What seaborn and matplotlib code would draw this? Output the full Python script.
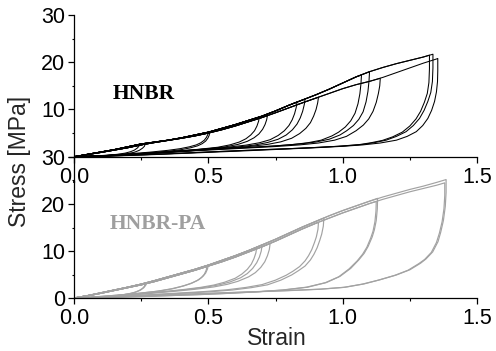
import matplotlib
matplotlib.use("Agg")
import matplotlib.pyplot as plt
import numpy as np
import pandas as pd
import seaborn as sns
from matplotlib.ticker import MultipleLocator, FormatStrFormatter

# ---------------- data ----------------
env_strain = [0.0, 0.05, 0.1, 0.15, 0.2, 0.25, 0.3, 0.35, 0.4, 0.45, 0.5, 0.55, 0.6, 0.65,
              0.7, 0.75, 0.8, 0.85, 0.9, 0.95, 1.0, 1.05, 1.1, 1.15, 1.2, 1.25, 1.3, 1.35, 1.39]

# HNBR loading envelopes (two specimens)
hnbr_env_a = [0.0, 0.5, 1.0, 1.5, 2.1, 2.7, 3.1, 3.5, 4.0, 4.6, 5.2, 6.0, 6.8, 7.7,
              8.6, 9.7, 10.9, 12.0, 13.1, 14.3, 15.6, 16.9, 18.0, 18.9, 19.7, 20.4, 21.1, 21.9, 22.4]
hnbr_env_b = [0.0, 0.45, 0.9, 1.4, 1.9, 2.5, 3.0, 3.45, 3.9, 4.4, 5.0, 5.7, 6.5, 7.4,
              8.3, 9.3, 10.35, 11.4, 12.4, 13.4, 14.4, 15.25, 15.95, 16.8, 17.8, 18.8, 19.8, 20.7, 21.3]

# HNBR unloading branches (strain, stress), starting at the peak
hnbr_a1 = [(0.245, 2.65), (0.242, 2.25), (0.236, 1.85), (0.225, 1.4), (0.21, 1.05), (0.19, 0.75),
           (0.16, 0.5), (0.12, 0.28), (0.07, 0.1), (0.0, 0.0)]
hnbr_b1 = [(0.265, 2.65), (0.262, 2.2), (0.255, 1.8), (0.243, 1.35), (0.225, 0.95), (0.2, 0.65),
           (0.165, 0.4), (0.12, 0.2), (0.06, 0.06), (0.0, 0.0)]
hnbr_a2 = [(0.5, 5.2), (0.498, 4.7), (0.493, 4.1), (0.485, 3.5), (0.472, 2.95), (0.455, 2.5),
           (0.43, 2.1), (0.395, 1.7), (0.35, 1.35), (0.28, 0.95), (0.2, 0.6), (0.12, 0.3),
           (0.05, 0.08), (0.0, 0.0)]
hnbr_b2 = [(0.505, 5.05), (0.503, 4.5), (0.498, 3.9), (0.49, 3.3), (0.477, 2.75), (0.46, 2.3),
           (0.435, 1.9), (0.4, 1.5), (0.35, 1.15), (0.28, 0.8), (0.2, 0.5), (0.12, 0.25),
           (0.05, 0.06), (0.0, 0.0)]
hnbr_a3 = [(0.69, 8.4), (0.687, 7.5), (0.681, 6.5), (0.672, 5.5), (0.658, 4.6), (0.64, 3.8),
           (0.615, 3.1), (0.58, 2.5), (0.535, 2.0), (0.47, 1.6), (0.39, 1.2), (0.3, 0.8),
           (0.2, 0.45), (0.1, 0.15), (0.0, 0.0)]
hnbr_b3 = [(0.72, 8.7), (0.717, 7.8), (0.711, 6.8), (0.702, 5.8), (0.688, 4.8), (0.67, 4.0),
           (0.645, 3.25), (0.61, 2.6), (0.565, 2.1), (0.5, 1.7), (0.42, 1.3), (0.33, 0.9),
           (0.23, 0.5), (0.12, 0.18), (0.0, 0.0)]
hnbr_a4 = [(0.86, 12.2), (0.857, 11.0), (0.851, 9.6), (0.842, 8.2), (0.83, 6.9), (0.813, 5.7),
           (0.79, 4.6), (0.76, 3.7), (0.72, 3.0), (0.67, 2.45), (0.6, 2.0), (0.5, 1.55),
           (0.4, 1.15), (0.3, 0.78), (0.2, 0.42), (0.1, 0.15), (0.0, 0.0)]
hnbr_a4b = [(0.83, 11.6), (0.827, 10.4), (0.821, 9.1), (0.812, 7.8), (0.8, 6.6), (0.783, 5.5),
            (0.76, 4.5), (0.73, 3.6), (0.69, 2.95), (0.64, 2.45), (0.57, 2.0), (0.48, 1.6),
            (0.38, 1.2), (0.28, 0.8), (0.18, 0.42), (0.09, 0.14), (0.0, 0.0)]
hnbr_b4 = [(0.91, 12.6), (0.907, 11.4), (0.901, 10.0), (0.892, 8.6), (0.88, 7.2), (0.863, 6.0),
           (0.84, 4.9), (0.81, 3.9), (0.77, 3.15), (0.72, 2.6), (0.65, 2.15), (0.56, 1.75),
           (0.46, 1.35), (0.36, 0.95), (0.25, 0.55), (0.13, 0.2), (0.0, 0.0)]
hnbr_a5 = [(1.10, 18.0), (1.098, 16.0), (1.094, 13.8), (1.087, 11.6), (1.076, 9.5), (1.06, 7.9),
           (1.04, 6.6), (1.015, 5.5), (0.99, 4.6), (0.95, 3.7), (0.9, 3.1), (0.84, 2.7),
           (0.75, 2.3), (0.65, 2.0), (0.55, 1.7), (0.45, 1.35), (0.35, 1.0), (0.25, 0.65),
           (0.15, 0.32), (0.07, 0.1), (0.0, 0.0)]
hnbr_a5b = [(1.07, 17.3), (1.068, 15.4), (1.064, 13.3), (1.057, 11.2), (1.046, 9.2), (1.03, 7.6),
            (1.01, 6.3), (0.985, 5.2), (0.96, 4.4), (0.92, 3.5), (0.87, 2.95), (0.81, 2.55),
            (0.72, 2.15), (0.62, 1.85), (0.52, 1.55), (0.42, 1.25), (0.32, 0.9), (0.22, 0.55),
            (0.12, 0.25), (0.05, 0.06), (0.0, 0.0)]
hnbr_b5 = [(1.14, 16.6), (1.138, 15.0), (1.133, 13.4), (1.125, 11.5), (1.113, 9.6), (1.097, 8.0),
           (1.077, 6.7), (1.05, 5.5), (1.014, 4.3), (0.97, 3.5), (0.91, 2.9), (0.84, 2.5),
           (0.75, 2.15), (0.65, 1.85), (0.55, 1.55), (0.45, 1.25), (0.35, 0.9), (0.25, 0.55),
           (0.15, 0.25), (0.07, 0.08), (0.0, 0.0)]
hnbr_a6 = [(1.336, 21.7), (1.336, 18.8), (1.334, 15.9), (1.328, 13.6), (1.317, 11.7), (1.303, 9.8),
           (1.286, 8.1), (1.263, 6.6), (1.236, 5.3), (1.2, 4.3), (1.162, 3.5), (1.12, 3.0),
           (1.075, 2.6), (1.0, 2.25), (0.9, 1.95), (0.8, 1.7), (0.7, 1.5), (0.6, 1.25),
           (0.5, 1.0), (0.4, 0.75), (0.3, 0.5), (0.2, 0.28), (0.1, 0.1), (0.0, 0.0)]
hnbr_a6b = [(1.323, 21.5), (1.323, 18.6), (1.321, 15.7), (1.315, 13.4), (1.304, 11.5), (1.29, 9.6),
            (1.273, 8.0), (1.25, 6.5), (1.222, 5.2), (1.186, 4.2), (1.148, 3.45), (1.105, 2.95),
            (1.06, 2.55), (0.98, 2.2), (0.88, 1.9), (0.78, 1.65), (0.68, 1.42), (0.58, 1.2),
            (0.48, 0.95), (0.38, 0.7), (0.28, 0.46), (0.18, 0.25), (0.09, 0.08), (0.0, 0.0)]
hnbr_b6 = [(1.354, 20.8), (1.354, 18.2), (1.353, 15.9), (1.349, 13.7), (1.342, 11.7), (1.331, 9.8),
           (1.317, 8.1), (1.298, 6.6), (1.274, 5.3), (1.24, 4.3), (1.2, 3.5), (1.14, 2.9),
           (1.075, 2.5), (1.0, 2.2), (0.9, 1.9), (0.8, 1.65), (0.7, 1.4), (0.6, 1.15),
           (0.5, 0.92), (0.4, 0.68), (0.3, 0.45), (0.2, 0.25), (0.1, 0.08), (0.0, 0.0)]

# HNBR-PA loading envelopes
pa_env_c = [0.0, 0.5, 1.1, 1.7, 2.3, 2.95, 3.7, 4.5, 5.3, 6.1, 7.0, 8.0, 9.0, 10.1,
            11.3, 12.5, 13.8, 15.1, 16.3, 17.5, 18.6, 19.6, 20.6, 21.5, 22.3, 23.1, 23.8, 24.6, 25.3]
pa_env_d = [0.0, 0.45, 1.0, 1.6, 2.2, 2.8, 3.5, 4.3, 5.1, 5.9, 6.8, 7.7, 8.7, 9.8,
            10.9, 12.1, 13.4, 14.7, 15.9, 17.0, 18.1, 19.1, 20.1, 21.0, 21.8, 22.6, 23.3, 24.0, 24.7]

# HNBR-PA unloading branches
pa_c1 = [(0.27, 3.25), (0.267, 2.7), (0.26, 2.2), (0.248, 1.7), (0.23, 1.25), (0.205, 0.88),
         (0.17, 0.56), (0.125, 0.3), (0.07, 0.1), (0.0, 0.0)]
pa_d1 = [(0.265, 3.0), (0.262, 2.5), (0.255, 2.05), (0.243, 1.6), (0.225, 1.2), (0.2, 0.85),
         (0.165, 0.54), (0.12, 0.28), (0.065, 0.09), (0.0, 0.0)]
pa_c2 = [(0.5, 7.0), (0.497, 6.2), (0.49, 5.3), (0.48, 4.6), (0.465, 3.9), (0.44, 3.2),
         (0.41, 2.6), (0.37, 2.0), (0.32, 1.5), (0.25, 1.05), (0.16, 0.6), (0.08, 0.25), (0.0, 0.0)]
pa_d2 = [(0.495, 6.7), (0.492, 5.9), (0.485, 5.05), (0.474, 4.35), (0.458, 3.7), (0.433, 3.05),
         (0.402, 2.5), (0.362, 1.95), (0.31, 1.45), (0.24, 1.0), (0.15, 0.55), (0.07, 0.2), (0.0, 0.0)]
pa_c3 = [(0.70, 11.3), (0.697, 10.0), (0.69, 8.7), (0.68, 7.5), (0.665, 6.3), (0.645, 5.2),
         (0.62, 4.3), (0.58, 3.4), (0.54, 2.8), (0.49, 2.3), (0.42, 1.8), (0.34, 1.35),
         (0.25, 0.9), (0.15, 0.45), (0.07, 0.15), (0.0, 0.0)]
pa_c3b = [(0.68, 10.8), (0.677, 9.6), (0.67, 8.4), (0.66, 7.2), (0.645, 6.1), (0.625, 5.1),
          (0.6, 4.2), (0.56, 3.35), (0.52, 2.75), (0.47, 2.25), (0.4, 1.75), (0.32, 1.3),
          (0.23, 0.85), (0.14, 0.42), (0.06, 0.12), (0.0, 0.0)]
pa_d3 = [(0.73, 11.6), (0.727, 10.3), (0.72, 9.0), (0.71, 7.7), (0.695, 6.5), (0.675, 5.4),
         (0.65, 4.5), (0.61, 3.55), (0.57, 2.9), (0.52, 2.35), (0.45, 1.85), (0.37, 1.4),
         (0.28, 0.95), (0.18, 0.5), (0.08, 0.15), (0.0, 0.0)]
pa_c4 = [(0.93, 17.0), (0.928, 15.3), (0.922, 13.6), (0.915, 12.3), (0.905, 10.7), (0.893, 9.3),
         (0.88, 8.1), (0.86, 6.8), (0.835, 5.8), (0.81, 4.9), (0.77, 3.8), (0.72, 2.8),
         (0.66, 2.2), (0.59, 1.7), (0.5, 1.3), (0.4, 1.0), (0.3, 0.7), (0.2, 0.4), (0.1, 0.15), (0.0, 0.0)]
pa_d4 = [(0.91, 16.1), (0.908, 14.6), (0.902, 13.0), (0.895, 11.8), (0.885, 10.3), (0.873, 9.0),
         (0.86, 7.9), (0.84, 6.7), (0.815, 5.7), (0.79, 4.85), (0.75, 3.8), (0.7, 2.85),
         (0.64, 2.25), (0.57, 1.75), (0.48, 1.35), (0.38, 1.02), (0.28, 0.7), (0.18, 0.38),
         (0.09, 0.12), (0.0, 0.0)]
pa_c5 = [(1.13, 21.2), (1.129, 19.0), (1.125, 16.5), (1.118, 14.5), (1.11, 13.0), (1.095, 11.0),
         (1.08, 9.5), (1.06, 8.1), (1.03, 6.3), (0.99, 4.6), (0.94, 3.3), (0.87, 2.3),
         (0.78, 1.7), (0.68, 1.3), (0.58, 1.0), (0.48, 0.75), (0.38, 0.55), (0.28, 0.35),
         (0.18, 0.2), (0.08, 0.06), (0.0, 0.0)]
pa_d5 = [(1.125, 20.55), (1.124, 18.5), (1.12, 16.2), (1.113, 14.2), (1.104, 12.7), (1.09, 10.8),
         (1.074, 9.3), (1.054, 7.9), (1.024, 6.2), (0.985, 4.5), (0.935, 3.25), (0.865, 2.3),
         (0.775, 1.7), (0.675, 1.3), (0.575, 1.0), (0.475, 0.75), (0.375, 0.55), (0.275, 0.35),
         (0.175, 0.2), (0.075, 0.06), (0.0, 0.0)]
pa_c6 = [(1.385, 25.2), (1.385, 22.5), (1.382, 19.5), (1.375, 16.5), (1.365, 14.0), (1.355, 12.0),
         (1.335, 9.8), (1.31, 8.3), (1.29, 7.4), (1.25, 6.0), (1.2, 4.9), (1.14, 3.9),
         (1.08, 3.0), (1.01, 2.3), (0.92, 1.9), (0.8, 1.6), (0.7, 1.4), (0.62, 1.25),
         (0.5, 1.0), (0.4, 0.8), (0.3, 0.55), (0.2, 0.35), (0.1, 0.15), (0.0, 0.0)]
pa_d6 = [(1.38, 24.5), (1.38, 21.8), (1.377, 19.0), (1.37, 16.2), (1.36, 13.8), (1.349, 11.8),
         (1.33, 9.7), (1.305, 8.2), (1.283, 7.3), (1.243, 5.9), (1.193, 4.8), (1.133, 3.8),
         (1.073, 2.95), (1.003, 2.25), (0.913, 1.85), (0.793, 1.55), (0.693, 1.35), (0.613, 1.2),
         (0.493, 0.95), (0.393, 0.75), (0.293, 0.52), (0.193, 0.32), (0.093, 0.13), (0.0, 0.0)]

x_ticks = [0.0, 0.5, 1.0, 1.5]
y_ticks = [0, 10, 20, 30]

# ---------------- build long tables ----------------
def build(loops):
    rows = []
    for name, env, unload in loops:
        peak = unload[0][0]
        pts = [(s, v) for s, v in zip(env_strain, env) if s < peak] + list(unload)
        for i, (s, v) in enumerate(pts):
            rows.append({"loop": name, "order": i, "strain": s, "stress": v})
    return pd.DataFrame(rows)

df_hnbr = build([
    ("a1", hnbr_env_a, hnbr_a1), ("b1", hnbr_env_b, hnbr_b1),
    ("a2", hnbr_env_a, hnbr_a2), ("b2", hnbr_env_b, hnbr_b2),
    ("a3", hnbr_env_a, hnbr_a3), ("b3", hnbr_env_b, hnbr_b3),
    ("a4", hnbr_env_a, hnbr_a4), ("a4b", hnbr_env_a, hnbr_a4b), ("b4", hnbr_env_b, hnbr_b4),
    ("a5", hnbr_env_a, hnbr_a5), ("a5b", hnbr_env_a, hnbr_a5b), ("b5", hnbr_env_b, hnbr_b5),
    ("a6", hnbr_env_a, hnbr_a6), ("a6b", hnbr_env_a, hnbr_a6b), ("b6", hnbr_env_b, hnbr_b6),
])
df_pa = build([
    ("c1", pa_env_c, pa_c1), ("d1", pa_env_d, pa_d1),
    ("c2", pa_env_c, pa_c2), ("d2", pa_env_d, pa_d2),
    ("c3", pa_env_c, pa_c3), ("c3b", pa_env_c, pa_c3b), ("d3", pa_env_d, pa_d3),
    ("c4", pa_env_c, pa_c4), ("d4", pa_env_d, pa_d4),
    ("c5", pa_env_c, pa_c5), ("d5", pa_env_d, pa_d5),
    ("c6", pa_env_c, pa_c6), ("d6", pa_env_d, pa_d6),
])

# ---------------- figure ----------------
sns.set_theme(style="ticks")
plt.rcParams["font.family"] = ["Liberation Sans", "DejaVu Sans"]

W, H = 496, 351
fig = plt.figure(figsize=(W / 100, H / 100), dpi=100)
ax_bot = fig.add_axes([74 / W, 1 - 298 / H, 403 / W, (298 - 157) / H])
ax_top = fig.add_axes([74 / W, 1 - 156.7 / H, 403 / W, (156.7 - 15) / H])

sns.lineplot(data=df_hnbr, x="strain", y="stress", units="loop", estimator=None, sort=False,
             color="black", lw=0.75, ax=ax_top)
sns.lineplot(data=df_pa, x="strain", y="stress", units="loop", estimator=None, sort=False,
             color="#a2a2a2", lw=0.85, ax=ax_bot)

for ax in (ax_top, ax_bot):
    ax.patch.set_visible(False)
    ax.set_xlim(0, 1.5)
    ax.set_ylim(0, 30)
    ax.set_xticks(x_ticks)
    ax.set_yticks(y_ticks)
    ax.xaxis.set_major_formatter(FormatStrFormatter("%.1f"))
    ax.xaxis.set_minor_locator(MultipleLocator(0.25))
    ax.yaxis.set_minor_locator(MultipleLocator(5))
    ax.set_xlabel("")
    ax.set_ylabel("")
    for side in ("top", "right"):
        ax.spines[side].set_visible(False)
    for side in ("left", "bottom"):
        ax.spines[side].set_color("black")
        ax.spines[side].set_linewidth(0.9)
    ax.tick_params(axis="both", which="major", direction="out", length=4.5, width=0.9,
                   colors="black", labelsize=15.5, pad=2)
    ax.tick_params(axis="x", which="minor", direction="out", length=2.5, width=0.8, colors="black")
    ax.tick_params(axis="y", which="minor", direction="out", length=1.5, width=0.8, colors="black")
    ax.tick_params(axis="x", which="major", pad=3)
    ax.grid(False)

# the top panel's "0" sits under the lower panel's "30" label in the original
ax_top.set_yticklabels(["" if t == 0 else str(t) for t in y_ticks])

ax_top.text(0.258, 12.2, "HNBR", family=["Liberation Serif", "DejaVu Serif"], fontweight="bold",
            fontsize=15.5, color="black", ha="center", va="baseline")
ax_bot.text(0.312, 14.7, "HNBR-PA", family=["Liberation Serif", "DejaVu Serif"], fontweight="bold",
            fontsize=15.5, color="#9f9f9f", ha="center", va="baseline")

fig.text(0.040, 1 - 161 / H, "Stress [MPa]", rotation=90, ha="center", va="center", fontsize=16.5)
fig.text(277 / W, 1 - 345 / H, "Strain", ha="center", va="baseline", fontsize=16.5)

fig.savefig("out.png", dpi=100, facecolor="white")
